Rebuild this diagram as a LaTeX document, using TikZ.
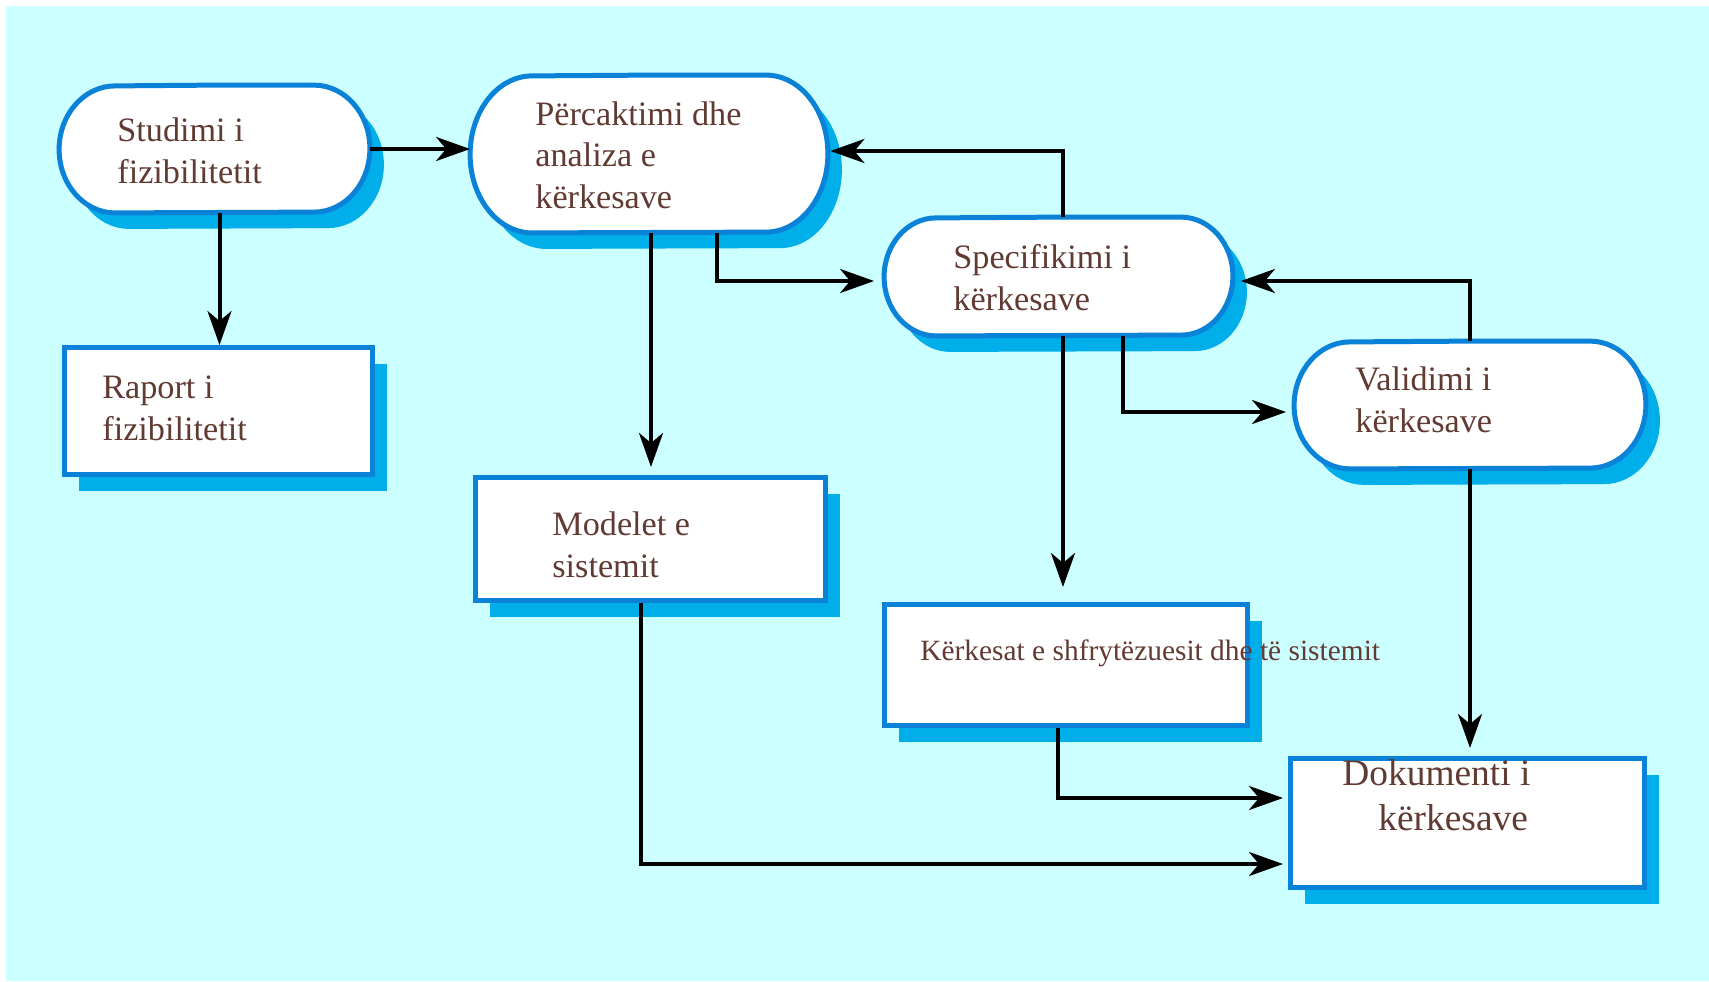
\documentclass[tikz,border=0pt]{standalone}
\usepackage{fontspec}
\setmainfont{Liberation Serif}
\usetikzlibrary{arrows.meta,shadows,calc}
\definecolor{bgcyan}{HTML}{CCFFFF}
\definecolor{borderblue}{HTML}{0A82D8}
\definecolor{shadowblue}{HTML}{00AEEA}
\definecolor{textbrown}{HTML}{613A32}
% outline with flat top and bottom and half-elliptic ends around a named node:
% #1 node, #2 horizontal radius of the ends, #3 vertical radius, #4 path style
\newcommand\pilloutline[4]{%
  \path[#4] (#1.north) -- ($(#1.north east)+(-#2,0)$)
    arc[start angle=-90,end angle=90,x radius=#2,y radius=#3]
    -- ($(#1.south west)+(#2,0)$)
    arc[start angle=90,end angle=270,x radius=#2,y radius=#3] -- cycle;}
\newcommand\pillstep[3]{%
  \pilloutline{#1}{#2}{#3}{pillshadow}%
  \pilloutline{#1}{#2}{#3}{pilledge}}
\begin{document}
\begin{tikzpicture}[x=0.5pt,y=-0.5pt,
  pillnode/.style={rectangle,draw=none,inner sep=0pt},
  pillshadow/.style={fill=shadowblue,transform canvas={shift={(7pt,-8pt)}}},
  pilledge/.style={fill=white,draw=borderblue,line width=2.5pt},
  docbox/.style={rectangle,draw=borderblue,line width=2.5pt,fill=white,inner sep=0pt,
    copy shadow={shadow xshift=7pt,shadow yshift=-8pt,fill=shadowblue,draw=none}},
  lbl/.style={anchor=base west,align=left,inner sep=0pt,text=textbrown,
    font=\fontsize{17.1}{20.7}\selectfont},
  flow/.style={line width=2pt,-{Stealth[length=17pt,width=12pt,inset=5pt]}}]
\useasboundingbox (0,0) rectangle (1709,981);
\fill[white] (0,0) rectangle (1709,981);
\fill[bgcyan] (6,6) rectangle (1709,981);

% process steps
\node[pillnode,minimum width=155pt,minimum height=63.5pt] (s) at (214.5,149) {};
\node[pillnode,minimum width=178.5pt,minimum height=78.5pt] (p) at (649,154) {};
\node[pillnode,minimum width=174pt,minimum height=59pt] (sp) at (1058.5,276.5) {};
\node[pillnode,minimum width=175.5pt,minimum height=63.5pt] (v) at (1470,405) {};
\pillstep{s}{56}{63.5}
\pillstep{p}{62}{78.5}
\pillstep{sp}{52}{59}
\pillstep{v}{56}{63.5}

% documents
\node[docbox,minimum width=154pt,minimum height=63.5pt] (r) at (218.5,411) {};
\node[docbox,minimum width=175pt,minimum height=61.5pt] (m) at (650.5,539) {};
\node[docbox,minimum width=181.5pt,minimum height=60.5pt] (k) at (1066,665) {};
\node[docbox,minimum width=177pt,minimum height=64.5pt] (d) at (1467.5,823) {};

% connectors
\draw[flow] (s.east) -- (s.east -| p.west);
\draw[flow] ($(s.south)+(5,0)$) coordinate (a2) -- (a2 |- r.north);
\draw[flow,shorten >=4pt] ($(p.south)+(2,0)$) coordinate (a3) -- (a3 |- m.north);
\draw[flow] ($(p.south)+(68,0)$) |- ($(sp.west)+(-10,4.5)$);
\draw[flow] ($(sp.north)+(4.5,0)$) |- ($(p.east)+(2.5,-3)$);
\draw[flow] (v.north) |- ($(sp.east)+(8,4.5)$);
\draw[flow] ($(sp.south)+(64.5,0)$) |- ($(v.west)+(-8,7)$);
\draw[flow,shorten >=7.5pt] ($(sp.south)+(4.5,0)$) coordinate (a8) -- (a8 |- k.north);
\draw[flow,shorten >=4pt] (v.south) -- (v.south |- d.north);
\draw[flow] ($(k.south)+(-8,0)$) |- ($(d.west)+(-5,-25)$);
\draw[flow] ($(m.south)+(-9.5,0)$) |- ($(d.west)+(-5,41)$);

% labels (anchored at the baseline of their last line)
\node[lbl] (slbl) at (117,183) {Studimi i\\fizibilitetit};
\node[lbl] (plbl) at (535,208) {Përcaktimi dhe\\analiza e\\kërkesave};
\node[lbl] (splbl) at (953,310) {Specifikimi i\\kërkesave};
\node[lbl] (vlbl) at (1355,432) {Validimi i\\kërkesave};
\node[lbl] (rlbl) at (102,440) {Raport i\\fizibilitetit};
\node[lbl] (mlbl) at (552,577) {Modelet e\\sistemit};
\node[lbl,font=\fontsize{14.7}{17.6}\selectfont] (klbl) at (920,660) {Kërkesat e shfrytëzuesit dhe të sistemit};
\node[lbl,font=\fontsize{18.7}{22.5}\selectfont] (dlbl) at (1342,830) {Dokumenti i\\\hspace*{18pt}kërkesave};
\end{tikzpicture}
\end{document}
